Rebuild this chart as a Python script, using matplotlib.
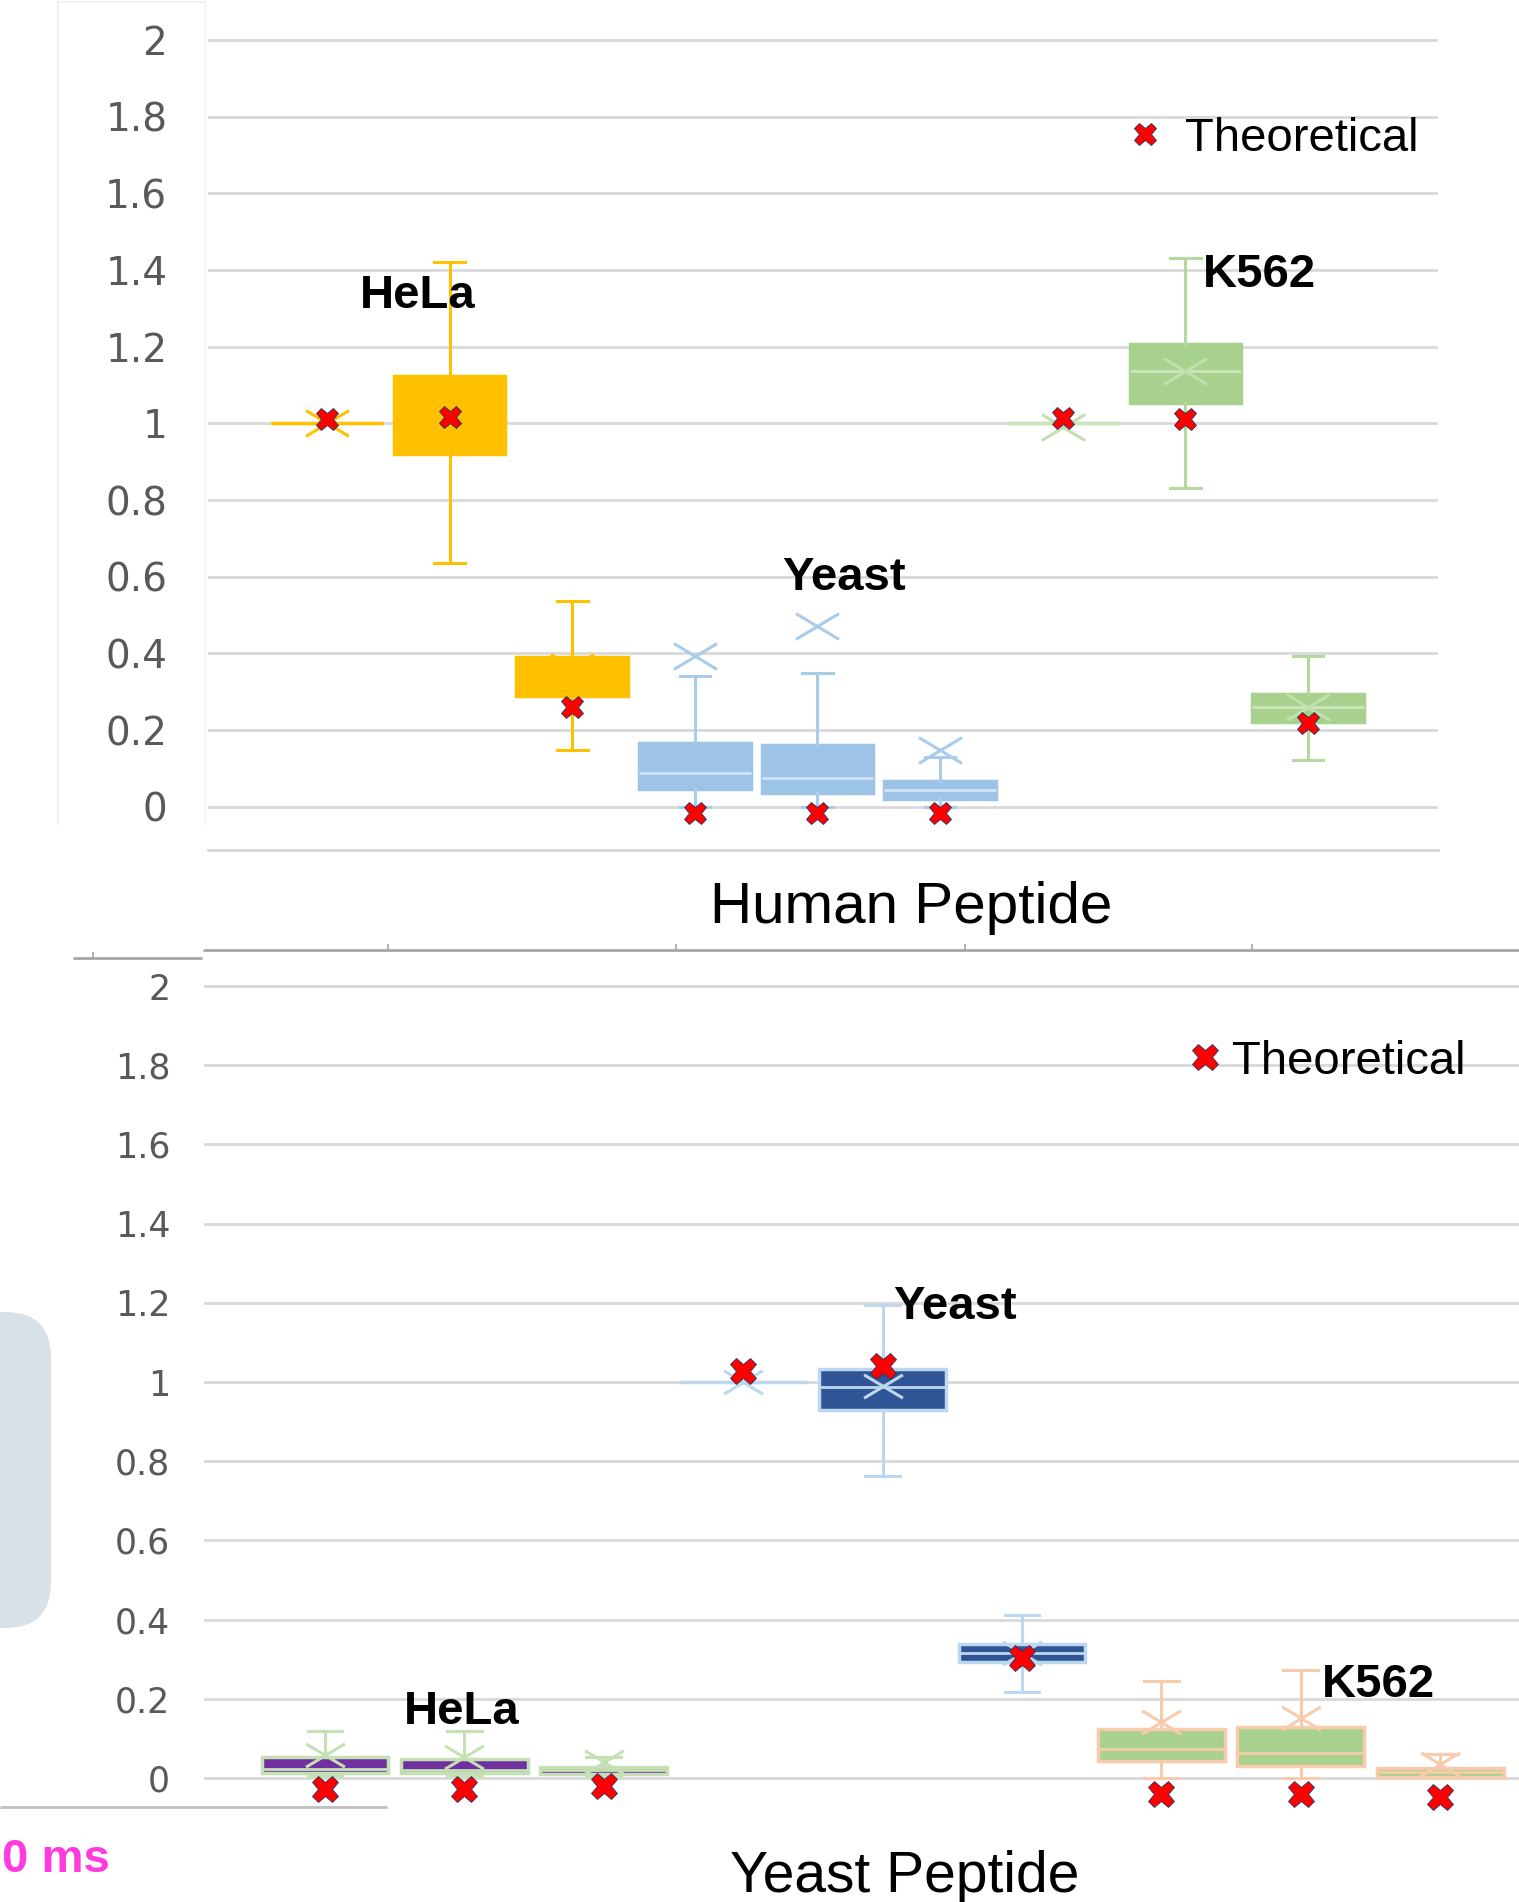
import numpy as np
import matplotlib
matplotlib.use("Agg")
import matplotlib.pyplot as plt
from matplotlib.path import Path
from matplotlib.lines import Line2D
from matplotlib.patches import FancyBboxPatch

W, H = 1519, 1902

# ---------------- data ----------------
ytick_vals = [0, 0.2, 0.4, 0.6, 0.8, 1.0, 1.2, 1.4, 1.6, 1.8, 2.0]
ytick_labels = ['0', '0.2', '0.4', '0.6', '0.8', '1', '1.2', '1.4', '1.6', '1.8', '2']
groups = ['HeLa', 'Yeast', 'K562']

# Top panel: Human Peptide
top_group = ['HeLa', 'HeLa', 'HeLa', 'Yeast', 'Yeast', 'Yeast', 'K562', 'K562', 'K562']
top_q1 = [1.0, 0.920, 0.289, 0.045, 0.035, 0.019, 1.0, 1.054, 0.222]
top_q3 = [1.0, 1.124, 0.391, 0.165, 0.161, 0.068, 1.0, 1.206, 0.293]
top_med = [1.0, 1.02, 0.34, 0.087, 0.076, 0.044, 1.0, 1.137, 0.261]
top_lo = [1.0, 0.635, 0.148, 0.0, 0.0, 0.0, 1.0, 0.831, 0.122]
top_hi = [1.0, 1.420, 0.537, 0.342, 0.348, 0.13, 1.0, 1.432, 0.394]
top_mean = [1.0, 1.02, 0.365, 0.394, 0.471, 0.148, 0.99, 1.137, 0.26]
top_theo = [1.011, 1.016, 0.259, -0.017, -0.017, -0.017, 1.014, 1.011, 0.219]

# Bottom panel: Yeast Peptide
bot_group = ['HeLa', 'HeLa', 'HeLa', 'Yeast', 'Yeast', 'Yeast', 'K562', 'K562', 'K562']
bot_q1 = [0.013, 0.013, 0.010, 1.0, 0.929, 0.292, 0.042, 0.030, 0.003]
bot_q3 = [0.054, 0.048, 0.028, 1.0, 1.033, 0.339, 0.124, 0.129, 0.026]
bot_med = [0.023, 0.020, 0.020, 1.0, 0.987, 0.315, 0.073, 0.063, 0.016]
bot_lo = [0.005, 0.005, 0.005, 1.0, 0.763, 0.218, 0.0, 0.0, 0.0]
bot_hi = [0.119, 0.119, 0.054, 1.0, 1.194, 0.412, 0.246, 0.273, 0.06]
bot_mean = [0.058, 0.054, 0.040, 1.0, 0.99, 0.315, 0.141, 0.152, 0.035]
bot_theo = [-0.028, -0.028, -0.020, 1.029, 1.04, 0.303, -0.040, -0.040, -0.048]

# ---------------- styles ----------------
top_colors = {
    'HeLa': dict(face='#FFC000', edge='#FFC000', whisk='#FFC000', med='#FFC000', mean='#FFC000'),
    'Yeast': dict(face='#9DC3E6', edge='#9DC3E6', whisk='#A9CCEB', med='#D2E4F4', mean='#A9CCEB'),
    'K562': dict(face='#A9D18E', edge='#A9D18E', whisk='#B5D89D', med='#CDE5BD', mean='#C2DFAF'),
}
bot_colors = {
    'HeLa': dict(face='#7030A0', edge='#C5E0B4', whisk='#C5E0B4', med='#C5E0B4', mean='#C5E0B4'),
    'Yeast': dict(face='#2F5597', edge='#BDD7EE', whisk='#BDD7EE', med='#BDD7EE', mean='#BDD7EE'),
    'K562': dict(face='#A9D18E', edge='#F8CBAD', whisk='#F8CBAD', med='#F8CBAD', mean='#F8CBAD'),
}

wide_x = Path([(-1, -0.6), (1, 0.6), (-1, 0.6), (1, -0.6)],
              [Path.MOVETO, Path.LINETO, Path.MOVETO, Path.LINETO])

fig = plt.figure(figsize=(W / 100, H / 100), dpi=100, facecolor='white')


def fx(x):
    return x / W


def fy(y):
    return 1 - y / H


def draw_panel(ax, group, q1, q3, med, lo, hi, mean, theo, colors, box_lw,
               mean_size, theo_size):
    positions = np.arange(1, len(group) + 1)
    for g in groups:
        idx = [i for i, gg in enumerate(group) if gg == g]
        stats = [dict(q1=q1[i], q3=q3[i], med=med[i], whislo=lo[i], whishi=hi[i],
                      mean=mean[i], fliers=[]) for i in idx]
        c = colors[g]
        ax.bxp(stats, positions=positions[idx], widths=0.91, capwidths=0.25,
               showmeans=True, showfliers=False, patch_artist=True,
               boxprops=dict(facecolor=c['face'], edgecolor=c['edge'], linewidth=box_lw),
               whiskerprops=dict(color=c['whisk'], linewidth=2.2),
               capprops=dict(color=c['whisk'], linewidth=2.2),
               medianprops=dict(color=c['med'], linewidth=2.0),
               meanprops=dict(marker=wide_x, markersize=mean_size,
                              markeredgecolor=c['mean'], markerfacecolor='none',
                              markeredgewidth=2.2),
               zorder=3)
    ax.plot(positions, theo, linestyle='none', marker='X', markersize=theo_size,
            markerfacecolor='#FF0000', markeredgecolor='#203864', markeredgewidth=0.6,
            zorder=6, label='Theoretical')
    ax.set_yticks(ytick_vals)
    ax.set_yticklabels(ytick_labels)
    ax.set_xticks([])
    ax.yaxis.grid(True, color='#D9D9D9', linewidth=2)
    ax.set_axisbelow(True)
    for s in ['top', 'right', 'left', 'bottom']:
        ax.spines[s].set_visible(False)
    ax.set_facecolor('none')


# ---------------- top panel ----------------
ax1 = fig.add_axes([fx(207.5), fy(850), fx(1438) - fx(207.5), fy(9.4) - fy(850)])
draw_panel(ax1, top_group, top_q1, top_q3, top_med, top_lo, top_hi, top_mean, top_theo,
           top_colors, box_lw=2.5, mean_size=31, theo_size=16)
ax1.set_xlim(0.026, 10.06)
ax1.set_ylim(-0.113, 2.08)
ax1.spines['bottom'].set_visible(True)
ax1.spines['bottom'].set_color('#D9D9D9')
ax1.spines['bottom'].set_linewidth(2)
ax1.tick_params(axis='y', length=0, pad=29, labelsize=28, labelcolor='#595959')
for t in ax1.get_yticklabels():
    t.set_fontfamily('DejaVu Sans')

lab_font = dict(family='Liberation Sans', fontsize=34, fontweight='bold', color='black')
ax1.text(1.741, 1.300, 'HeLa', ha='center', va='baseline', **lab_font)
ax1.text(5.218, 0.565, 'Yeast', ha='center', va='baseline', **lab_font)
ax1.text(8.608, 1.357, 'K562', ha='center', va='baseline', **lab_font)

ax1.legend(loc='center left', bbox_to_anchor=(fx(1133), fy(138.6)),
           bbox_transform=fig.transFigure, frameon=False, borderpad=0,
           borderaxespad=0, handlelength=0.5, handletextpad=0.6,
           prop=dict(family='Liberation Sans', size=34))

fig.text(fx(911.5), fy(923.3), 'Human Peptide', ha='center', va='baseline',
         family='Liberation Sans', fontsize=42, color='black')

# ---------------- bottom panel ----------------
ax2 = fig.add_axes([fx(203.5), fy(1817.6), 1.0 - fx(203.5), fy(966.2) - fy(1817.6)])
draw_panel(ax2, bot_group, bot_q1, bot_q3, bot_med, bot_lo, bot_hi, bot_mean, bot_theo,
           bot_colors, box_lw=2.5, mean_size=28, theo_size=19)
ax2.set_xlim(0.128, 9.565)
ax2.set_ylim(-0.1, 2.05)
ax2.tick_params(axis='y', length=0, pad=24, labelsize=25, labelcolor='#595959')
for t in ax2.get_yticklabels():
    t.set_fontfamily('DejaVu Sans')

ax2.text(1.98, 0.136, 'HeLa', ha='center', va='baseline', **lab_font)
ax2.text(5.52, 1.160, 'Yeast', ha='center', va='baseline', **lab_font)
ax2.text(8.56, 0.2045, 'K562', ha='center', va='baseline', **lab_font)

ax2.legend(loc='center left', bbox_to_anchor=(fx(1193), fy(1061.6)),
           bbox_transform=fig.transFigure, frameon=False, borderpad=0,
           borderaxespad=0, handlelength=0.5, handletextpad=0.33,
           prop=dict(family='Liberation Sans', size=34))

fig.text(fx(905), fy(1892), 'Yeast Peptide', ha='center', va='baseline',
         family='Liberation Sans', fontsize=41, color='black')

# ---------------- surrounding slide fragments ----------------
def fline(xs, ys, color, lw, z=1):
    fig.add_artist(Line2D([fx(x) for x in xs], [fy(y) for y in ys],
                          transform=fig.transFigure, color=color, linewidth=lw,
                          zorder=z, solid_capstyle='butt'))


fline([58, 58], [0, 825], '#F0F0F0', 1.5)
fline([58, 205], [1.5, 1.5], '#F0F0F0', 1.5)
fline([205, 205], [0, 825], '#F6F6F6', 1.2)
fline([203, W], [950, 950], '#A6A6A6', 2)
for tx in [388, 676, 965, 1252]:
    fline([tx, tx], [944, 950], '#A6A6A6', 1.2)
fline([73, 202], [958, 958], '#A6A6A6', 2)
fline([93, 93], [952, 958], '#A6A6A6', 1.2)
fline([0, 387], [1807, 1807], '#BFBFBF', 2)

fig.add_artist(FancyBboxPatch((fx(-60), fy(1628)), fx(111), fy(1312) - fy(1628),
                              boxstyle='round,pad=0,rounding_size=0.03',
                              transform=fig.transFigure, facecolor='#D9E1E8',
                              edgecolor='none', zorder=0,
                              mutation_aspect=W / H))

fig.text(fx(2), fy(1872), '0 ms', ha='left', va='baseline',
         family='Liberation Sans', fontsize=34, fontweight='bold', color='#FF3BDF')

fig.savefig('out.png', dpi=100, facecolor='white')
